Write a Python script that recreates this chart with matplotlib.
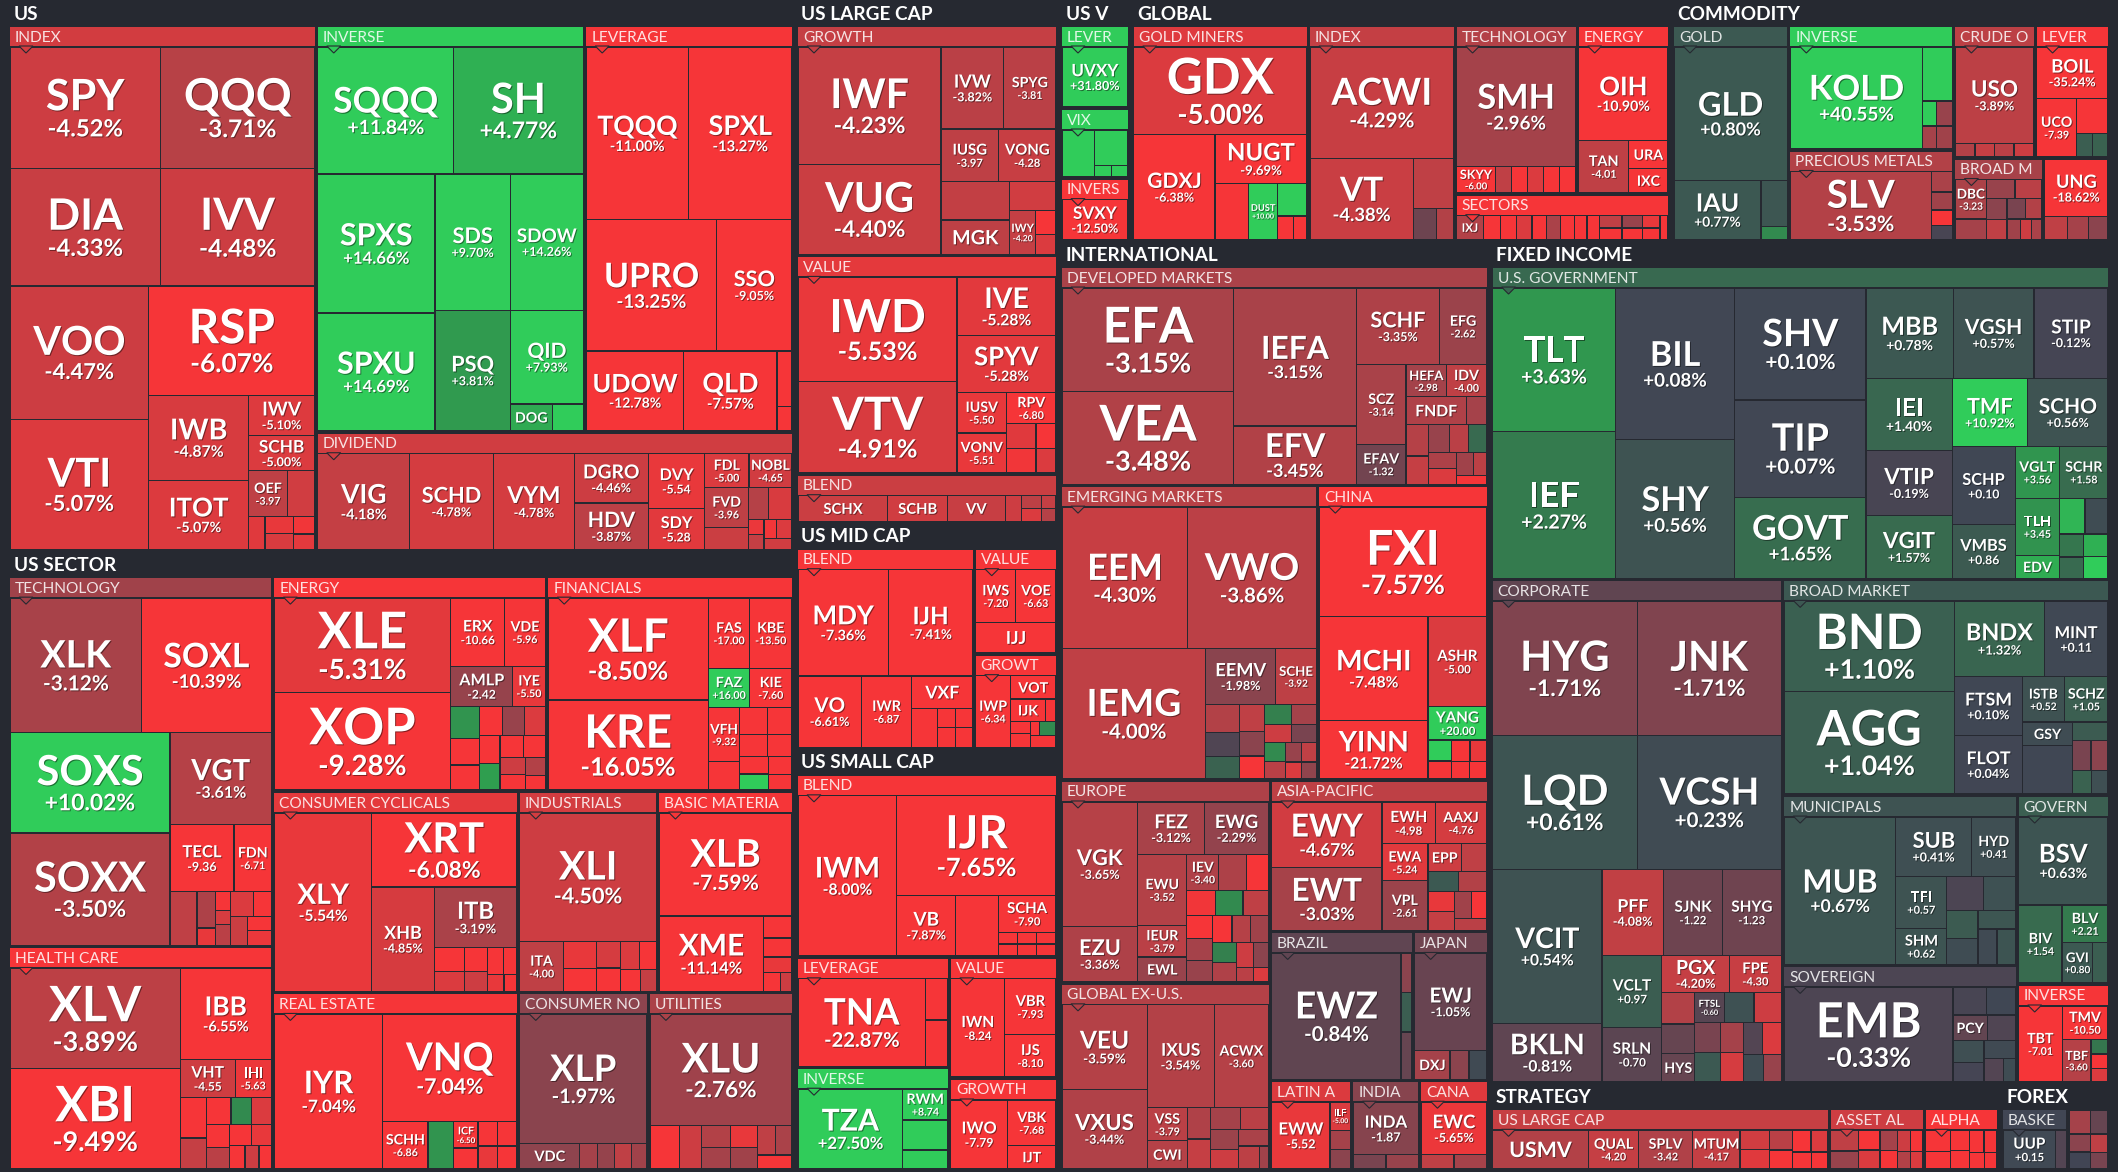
import matplotlib
matplotlib.use("Agg")
import matplotlib.pyplot as plt
import matplotlib.patheffects as pe
from matplotlib.patches import Rectangle, Polygon
from matplotlib.textpath import TextPath
from matplotlib.font_manager import FontProperties
from matplotlib.colors import to_rgb
import numpy as np

# ---------------------------------------------------------------
# data: (ticker, % change, weight); empty ticker = unlabeled tile
# ---------------------------------------------------------------
US_INDEX = [("SPY", -4.52, 10080), ("QQQ", -3.71, 10350), ("DIA", -4.33, 9744),
            ("IVV", -4.48, 10005), ("VOO", -4.47, 10200), ("VTI", -5.07, 9996),
            ("RSP", -6.07, 10000), ("IWB", -4.87, 4680), ("ITOT", -5.07, 3816),
            ("IWV", -5.10, 1484), ("SCHB", -5.00, 1272), ("OEF", -3.97, 990),
            ("", -4.6, 700), ("", -5.2, 300), ("", -5.5, 260), ("", -4.9, 260),
            ("", -5.8, 200), ("", -5.3, 180)]
US_INVERSE = [("SQQQ", 11.84, 9595), ("SH", 4.77, 9120), ("SPXS", 14.66, 9048),
              ("SPXU", 14.69, 7656), ("SDS", 9.70, 5712), ("SDOW", 14.26, 5508),
              ("PSQ", 3.81, 5040), ("QID", 7.93, 3780), ("DOG", 4.5, 620), ("", 9.0, 460)]
US_LEVERAGE = [("TQQQ", -11.00, 9804), ("SPXL", -13.27, 9933), ("UPRO", -13.25, 9506),
               ("SSO", -9.05, 5488), ("UDOW", -12.78, 4320), ("QLD", -7.57, 4140),
               ("", -12.5, 462), ("", -9.0, 198)]
US_DIVIDEND = [("VIG", -4.18, 4958), ("SCHD", -4.78, 4514), ("VYM", -4.78, 4366),
               ("DGRO", -4.46, 2052), ("HDV", -3.87, 1944), ("DVY", -5.54, 1722),
               ("SDY", -5.28, 1312), ("FDL", -5.00, 840), ("NOBL", -4.65, 816),
               ("FVD", -3.96, 986), ("", -4.4, 550), ("", -3.6, 360), ("", -4.9, 430),
               ("", -5.6, 130), ("", -4.2, 130), ("", -5.9, 130), ("", -5.0, 170), ("", -4.6, 170)]

SEC_TECH = [("XLK", -3.12, 9800), ("SOXL", -10.39, 9700), ("SOXS", 10.02, 8925),
            ("SOXX", -3.50, 9996), ("VGT", -3.61, 5168), ("TECL", -9.36, 2400),
            ("FDN", -6.71, 1400), ("", -4.0, 800), ("", -3.3, 374), ("", -5.5, 180),
            ("", -6.5, 156), ("", -4.8, 120), ("", -3.8, 180), ("", -5.0, 306),
            ("", -6.0, 240), ("", -4.4, 276), ("", -6.8, 192), ("", -5.6, 192)]
SEC_HEALTH = [("XLV", -3.89, 9652), ("XBI", -9.49, 9652), ("IBB", -6.55, 4692),
              ("VHT", -4.55, 1189), ("IHI", -5.63, 783), ("", -7.0, 600), ("", -4.2, 450),
              ("", -8.5, 380), ("", 3.0, 320), ("", -5.0, 300), ("", -6.5, 300),
              ("", -3.8, 280), ("", -7.5, 260), ("", -5.5, 240), ("", -9.0, 200),
              ("", -4.5, 180), ("", -6.0, 160)]
SEC_ENERGY = [("XLE", -5.31, 9230), ("XOP", -9.28, 9490), ("ERX", -10.66, 2040),
              ("VDE", -5.96, 1530), ("AMLP", -2.42, 1380), ("IYE", -5.5, 720),
              ("", 3.5, 520), ("", -8.0, 420), ("", -9.5, 400), ("", -7.0, 380),
              ("", -2.5, 360), ("", -5.0, 340), ("", -8.5, 320), ("", 4.0, 300),
              ("", -10.0, 280), ("", -6.0, 260), ("", -4.5, 240), ("", -9.0, 220),
              ("", -3.5, 200), ("", -7.5, 160)]
SEC_FIN = [("XLF", -8.50, 9163), ("KRE", -16.05, 8092), ("FAS", -17.0, 1620),
           ("KBE", -13.5, 1674), ("FAZ", 16.0, 900), ("KIE", -7.60, 930),
           ("VFH", -9.32, 960), ("", -9.0, 500), ("", -12.0, 420), ("", -8.0, 380),
           ("", -14.0, 340), ("", -7.0, 300), ("", -10.0, 280), ("", 12.0, 260),
           ("", -9.5, 240), ("", -11.0, 200)]
SEC_CYCL = [("XLY", -5.54, 9720), ("XRT", -6.08, 5992), ("XHB", -4.85, 3634),
            ("ITB", -3.19, 2806), ("", -6.5, 400), ("", -5.0, 330), ("", -7.0, 300),
            ("", -4.5, 260), ("", -6.0, 240), ("", -8.0, 200), ("", -5.5, 160), ("", -7.5, 120)]
SEC_REIT = [("IYR", -7.04, 9440), ("VNQ", -7.04, 8118), ("SCHH", -6.86, 1188),
            ("", 3.5, 684), ("ICF", -6.5, 360), ("", -7.5, 280), ("", -6.0, 270),
            ("", -8.0, 260), ("", -5.5, 250), ("", -7.0, 240)]
SEC_INDU = [("XLI", -4.50, 9797), ("ITA", -4.00, 1216), ("", -5.5, 500), ("", -6.5, 420),
            ("", -4.8, 360), ("", -7.0, 320), ("", -5.0, 300), ("", -6.0, 260),
            ("", -8.0, 240), ("", -4.2, 200)]
SEC_BASIC = [("XLB", -7.59, 7644), ("XME", -11.14, 4389), ("", -6.5, 350),
             ("", -9.0, 300), ("", -5.5, 250), ("", -8.0, 180), ("", -4.5, 120)]
SEC_STAPLES = [("XLP", -1.97, 9114), ("VDC", -2.10, 840), ("", -3.0, 250),
               ("", -2.4, 240), ("", -4.0, 230), ("", -2.8, 220)]
SEC_UTIL = [("XLU", -2.76, 9100), ("", -6.0, 720), ("", -4.5, 540), ("", -3.5, 360),
            ("", -3.0, 360), ("", -5.5, 340), ("", -2.8, 320), ("", -4.0, 300),
            ("", -3.2, 280), ("", -6.5, 270)]

LC_GROWTH = [("IWF", -4.23, 9523), ("VUG", -4.40, 7276), ("IVW", -3.82, 2914),
             ("SPYG", -3.81, 2418), ("IUSG", -3.97, 1720), ("VONG", -4.28, 1720),
             ("", -4.1, 1485), ("MGK", -3.91, 1332), ("", -4.6, 759), ("IWY", -4.2, 648),
             ("", -6.5, 276), ("", -5.0, 230)]
LC_VALUE = [("IWD", -5.53, 9401), ("VTV", -4.91, 8211), ("IVE", -5.28, 3256),
            ("SPYV", -5.28, 3182), ("IUSV", -5.50, 1147), ("VONV", -5.51, 1110),
            ("RPV", -6.8, 888), ("", -5.2, 420), ("", -5.8, 400), ("", -6.6, 285), ("", -5.0, 270)]
LC_BLEND = [("SCHX", -4.4, 1364), ("SCHB", -4.6, 902), ("VV", -4.3, 880), ("", -4.5, 242),
            ("", -3.9, 154), ("", -5.0, 154), ("", -4.2, 110), ("", -3.6, 110)]

MC_BLEND = [("MDY", -7.36, 5740), ("IJH", -7.41, 5330), ("VO", -6.61, 2695),
            ("IWR", -6.87, 2145), ("VXF", -7.2, 1175), ("", -7.0, 600), ("", -7.5, 210),
            ("", -6.5, 200), ("", -8.0, 210), ("", -7.2, 200)]
MC_VALUE = [("IWS", -7.20, 1064), ("VOE", -6.63, 1064), ("IJJ", -7.3, 1232)]
MC_GROWTH = [("IWP", -6.34, 1344), ("VOT", -6.8, 572), ("IJK", -6.5, 416), ("", -7.0, 130),
             ("", -6.2, 130), ("", -7.5, 144), ("", -6.8, 72), ("", 3.0, 126), ("", -7.0, 162)]

SC_BLEND = [("IWM", -8.00, 9028), ("IJR", -7.65, 9044), ("VB", -7.87, 2024),
            ("", -7.6, 1472), ("SCHA", -7.9, 1204), ("", -7.5, 130), ("", -8.2, 130),
            ("", -7.0, 130), ("", -8.5, 130), ("", -7.3, 130), ("", -7.8, 130)]
SC_LEVERAGE = [("TNA", -22.87, 6528), ("", -21.0, 544), ("", -20.0, 612)]
SC_INVERSE = [("TZA", 27.50, 4898), ("RWM", 8.74, 816), ("", 15.0, 798), ("", 10.0, 494)]
SC_VALUE = [("IWN", -8.24, 3040), ("VBR", -7.93, 1634), ("IJS", -8.1, 1254)]
SC_GROWTH = [("IWO", -7.79, 2268), ("VBK", -7.68, 1296), ("IJT", -7.7, 648)]

VOL_LEVER = [("UVXY", 31.80, 2500)]
VOL_VIX = [("", 15.0, 912), ("", 14.0, 696), ("", 10.0, 108), ("", 12.0, 108)]
VOL_INVERSE = [("SVXY", -12.5, 1700)]

GL_MINERS = [("GDX", -5.00, 8576), ("GDXJ", -6.38, 4800), ("NUGT", -9.69, 2516),
             ("", -10.5, 1075), ("DUST", 10.0, 903), ("", 12.0, 550), ("", -9.0, 216), ("", -8.0, 180)]
GL_INDEX = [("ACWI", -4.29, 9095), ("VT", -4.38, 4774), ("", -4.0, 1140),
            ("", -1.2, 420), ("", -3.5, 300)]
GL_TECH = [("SMH", -2.96, 8096), ("SKYY", -6.0, 580), ("", -4.0, 240), ("", -6.5, 240),
           ("", -5.0, 240), ("", -7.0, 240), ("", -8.0, 240)]
GL_ENERGY = [("OIH", -10.90, 4620), ("TAN", -4.01, 1443), ("URA", -7.5, 609), ("IXC", -6.0, 522)]
GL_SECTORS = [("IXJ", -3.5, 440), ("", -7.0, 280), ("", -8.5, 260), ("", -5.0, 250),
              ("", -8.0, 240), ("", -3.2, 230), ("", -7.5, 220), ("", -6.0, 210),
              ("", -9.0, 200), ("", -4.0, 190), ("", -7.0, 180), ("", -2.5, 170),
              ("", -8.0, 160), ("", -5.5, 150), ("", -6.5, 140), ("", -9.5, 130)]

CM_GOLD = [("GLD", 0.80, 8772), ("IAU", 0.77, 2970), ("", 0.7, 700), ("", 3.0, 200)]
CM_INVERSE = [("KOLD", 40.55, 7546), ("", 12.0, 902), ("", 8.0, 190), ("", -2.5, 228),
              ("", -3.0, 170), ("", -2.8, 204)]
CM_PRECIOUS = [("SLV", -3.53, 5616), ("", -3.2, 256), ("", -2.8, 224), ("", -7.0, 192), ("", -0.2, 176)]
CM_CRUDE = [("USO", -3.89, 4200), ("", -3.5, 140), ("", -4.2, 140), ("", -3.8, 140), ("", -4.5, 140)]
CM_LEVER = [("BOIL", -35.24, 2000), ("UCO", -7.39, 1260), ("", -8.0, 594),
            ("", 1.0, 198), ("", 1.2, 198)]
CM_BROAD = [("DBC", -3.23, 728), ("", -3.0, 380), ("", -2.5, 320), ("", -3.8, 300),
            ("", -2.0, 260), ("", -4.0, 240), ("", -1.5, 220), ("", -3.5, 200),
            ("", -2.8, 160), ("", -4.5, 140), ("", -3.2, 124)]
CM_NATGAS = [("UNG", -18.62, 2100), ("", -4.0, 300), ("", -3.0, 280), ("", -2.0, 260)]

IN_DEVELOPED = [("EFA", -3.15, 9984), ("VEA", -3.48, 8960), ("IEFA", -3.15, 9504),
                ("EFV", -3.45, 4000), ("SCHF", -3.35, 3596), ("EFG", -2.62, 2030),
                ("SCZ", -3.14, 2220), ("EFAV", -1.32, 1110), ("HEFA", -2.98, 720),
                ("IDV", -4.0, 720), ("FNDF", -3.4, 945), ("", -3.0, 315), ("", -3.6, 400),
                ("", -4.2, 360), ("", -2.5, 320), ("", -3.8, 300), ("", 1.5, 280),
                ("", -3.3, 260), ("", -5.0, 240), ("", -2.8, 220), ("", -3.9, 170), ("", -6.0, 150)]
IN_EMERGING = [("EEM", -4.30, 9858), ("VWO", -3.86, 10070), ("IEMG", -4.00, 10388),
               ("EEMV", -1.98, 2184), ("SCHE", -3.92, 1260), ("", -3.5, 520), ("", -0.4, 460),
               ("", 1.2, 420), ("", -4.0, 380), ("", -2.0, 340), ("", -6.5, 320),
               ("", 2.5, 300), ("", -3.0, 280), ("", -4.5, 260), ("", -1.5, 240),
               ("", 3.0, 220), ("", -3.8, 200), ("", -2.5, 180), ("", -4.0, 160),
               ("", -5.0, 150), ("", -2.2, 140)]
IN_CHINA = [("FXI", -7.57, 10400), ("MCHI", -7.48, 6400), ("YINN", -21.72, 3600),
            ("ASHR", -5.00, 2967), ("YANG", 20.0, 1118), ("", 6.0, 280), ("", -6.5, 240),
            ("", -7.0, 220), ("", -5.5, 200), ("", -8.0, 180), ("", -6.0, 170)]
IN_EUROPE = [("VGK", -3.65, 4982), ("EZU", -3.36, 2226), ("FEZ", -3.12, 1862),
             ("EWG", -2.29, 1786), ("EWU", -3.52, 1836), ("IEUR", -3.79, 828),
             ("EWL", -2.5, 648), ("IEV", -3.4, 608), ("", -3.3, 532), ("", -6.5, 420),
             ("", -5.8, 380), ("", 3.0, 360), ("", -4.0, 340), ("", -6.0, 320),
             ("", -3.0, 300), ("", -2.5, 290), ("", -6.8, 280), ("", -3.6, 270),
             ("", -2.8, 260), ("", 2.5, 250), ("", -3.4, 240), ("", -4.5, 220),
             ("", -2.0, 200), ("", -3.8, 130), ("", -5.0, 120)]
IN_GLOBALEX = [("VEU", -3.59, 4032), ("VXUS", -3.44, 3780), ("IXUS", -3.54, 3870),
               ("ACWX", -3.60, 3150), ("VSS", -3.79, 750), ("CWI", -3.6, 630),
               ("", -3.4, 400), ("", -4.2, 380), ("", -3.0, 360), ("", -3.8, 340),
               ("", -2.6, 320), ("", -4.5, 300), ("", -3.2, 280), ("", -3.9, 260), ("", -2.8, 120)]
IN_ASIA = [("EWY", -4.67, 3800), ("EWT", -3.03, 3648), ("EWH", -4.98, 1176),
           ("AAXJ", -4.76, 1120), ("EWA", -5.24, 900), ("VPL", -2.61, 1200),
           ("EPP", -4.5, 486), ("", -4.0, 360), ("", 0.8, 330), ("", -3.5, 300),
           ("", -5.5, 280), ("", -4.2, 260), ("", -2.8, 240), ("", -6.0, 220), ("", -3.8, 200)]
IN_BRAZIL = [("EWZ", -0.84, 9408), ("", -2.0, 240), ("", 1.0, 240), ("", -1.0, 288)]
IN_JAPAN = [("EWJ", -1.05, 3922), ("DXJ", -3.0, 572), ("", -2.0, 308), ("", 0.2, 286)]
IN_LATAM = [("EWW", -5.52, 2236), ("ILF", -5.0, 330), ("", -3.0, 225), ("", -2.0, 225)]
IN_INDIA = [("INDA", -1.87, 1976), ("", -1.5, 260), ("", -2.5, 260)]
IN_CANADA = [("EWC", -5.65, 1968), ("", -4.0, 264), ("", -3.0, 264)]

FI_GOV = [("TLT", 3.63, 9720), ("IEF", 2.27, 9900), ("BIL", 0.08, 9918), ("SHY", 0.56, 9048),
          ("SHV", 0.10, 8064), ("TIP", 0.07, 7008), ("GOVT", 1.65, 5856), ("MBB", 0.78, 4355),
          ("VGSH", 0.57, 4020), ("STIP", -0.12, 3685), ("IEI", 1.40, 3392),
          ("VTIP", -0.19, 3100), ("VGIT", 1.57, 2976), ("TMF", 10.92, 2800),
          ("SCHO", 0.56, 3000), ("SCHP", 0.10, 2700), ("VMBS", 0.86, 1845),
          ("VGLT", 3.56, 1260), ("SCHR", 1.58, 1368), ("TLH", 3.45, 1400), ("EDV", 4.6, 560),
          ("", 5.0, 500), ("", 0.3, 450), ("", 2.0, 300), ("", 1.5, 280), ("", 4.8, 300), ("", 6.0, 300)]
FI_CORP = [("HYG", -1.71, 10486), ("JNK", -1.71, 10388), ("LQD", 0.61, 10486),
           ("VCSH", 0.23, 10388), ("VCIT", 0.54, 9100), ("BKLN", -0.81, 3450),
           ("PFF", -4.08, 2850), ("SJNK", -1.22, 2730), ("SHYG", -1.23, 2730),
           ("VCLT", 0.97, 2310), ("SRLN", -0.70, 1764), ("PGX", -4.20, 1350),
           ("FPE", -4.30, 1026), ("", -3.5, 560), ("", -1.0, 520), ("HYS", -1.0, 500),
           ("FTSL", -0.6, 480), ("", 0.5, 480), ("", -4.5, 440), ("", -1.5, 420),
           ("", 0.8, 400), ("", -3.0, 380), ("", -4.8, 360), ("", -0.5, 340),
           ("", -5.0, 320), ("", 0.3, 300), ("", -2.5, 260)]
FI_BROAD = [("BND", 1.10, 8432), ("AGG", 1.04, 9672), ("BNDX", 1.32, 3752),
            ("MINT", 0.11, 2632), ("FTSM", 0.10, 2205), ("FLOT", 0.04, 2205),
            ("ISTB", 0.52, 1056), ("SCHZ", 1.05, 1089), ("GSY", 0.3, 660), ("", 0.1, 1344),
            ("", 0.9, 360), ("", -1.5, 300), ("", -2.0, 280), ("", 1.2, 240), ("", 0.4, 220)]
FI_MUNI = [("MUB", 0.67, 9234), ("SUB", 0.41, 2530), ("HYD", 0.41, 1472), ("TFI", 0.57, 1480),
           ("SHM", 0.62, 1036), ("", -0.3, 700), ("", 0.5, 600), ("", 0.9, 500),
           ("", 0.3, 450), ("", 0.7, 400), ("", 0.2, 380), ("", 0.6, 370)]
FI_SOVEREIGN = [("EMB", -0.33, 8680), ("", -0.2, 500), ("", 0.1, 440), ("PCY", -0.9, 480),
                ("", -0.4, 400), ("", 0.4, 360), ("", -0.1, 330), ("", 0.2, 300),
                ("", -0.5, 250), ("", 0.3, 160)]
FI_GOVERN = [("BSV", 0.63, 4896), ("BIV", 1.54, 2112), ("BLV", 2.21, 1085),
             ("GVI", 0.8, 770), ("", 1.0, 385)]
FI_INVERSE = [("TBT", -7.01, 1881), ("TMV", -10.5, 875), ("TBF", -3.6, 700),
              ("", 2.0, 140), ("", -7.0, 140), ("", -5.0, 130)]

ST_LARGE = [("USMV", -3.5, 2414), ("QUAL", -4.20, 1258), ("SPLV", -3.42, 1360),
            ("MTUM", -4.17, 1190), ("", -4.6, 374), ("", -5.2, 374), ("", -3.8, 300),
            ("", -6.5, 280), ("", -7.5, 260), ("", -5.0, 240), ("", -8.0, 200), ("", -6.0, 180)]
ST_ASSET = [("", -4.0, 400), ("", -2.5, 340), ("", -6.0, 300), ("", -5.0, 280),
            ("", -3.0, 240), ("", -7.0, 220), ("", -4.5, 200), ("", -6.0, 180),
            ("", -3.5, 160), ("", -5.0, 140)]
ST_ALPHA = [("", -7.0, 360), ("", -9.0, 300), ("", -6.5, 260), ("", -8.0, 240),
            ("", -10.0, 220), ("", -7.0, 200), ("", -6.0, 160), ("", -8.0, 140)]

FX_BASKET = [("UUP", 0.15, 1360), ("", -0.5, 272)]
FX_OTHER = [("", -3.0, 280), ("", -1.0, 240), ("", -2.0, 220), ("", 0.0, 200),
            ("", -4.0, 180), ("", -1.5, 160)]

# sub-groups: (header text, weight, tiles)
US = [("INDEX", 88303, US_INDEX), ("INVERSE", 59598, US_INVERSE),
      ("LEVERAGE", 46354, US_LEVERAGE), ("DIVIDEND", 30976, US_DIVIDEND)]
US_SECTOR = [("TECHNOLOGY", 53430, SEC_TECH), ("HEALTH CARE", 32175, SEC_HEALTH),
             ("ENERGY", 32118, SEC_ENERGY), ("FINANCIALS", 28938, SEC_FIN),
             ("CONSUMER CYCLICALS", 26969, SEC_CYCL), ("REAL ESTATE", 23711, SEC_REIT),
             ("INDUSTRIALS", 15347, SEC_INDU), ("BASIC MATERIA", 14900, SEC_BASIC),
             ("CONSUMER NO", 12576, SEC_STAPLES), ("UTILITIES", 14017, SEC_UTIL)]
US_LARGE = [("GROWTH", 33003, LC_GROWTH), ("VALUE", 31266, LC_VALUE), ("BLEND", 6948, LC_BLEND)]
US_MID = [("BLEND", 19000, MC_BLEND), ("VALUE", 4700, MC_VALUE), ("GROWT", 4200, MC_GROWTH)]
US_SMALL = [("BLEND", 26248, SC_BLEND), ("LEVERAGE", 9266, SC_LEVERAGE),
            ("INVERSE", 8588, SC_INVERSE), ("VALUE", 7200, SC_VALUE), ("GROWTH", 5440, SC_GROWTH)]
US_VOL = [("LEVER", 3224, VOL_LEVER), ("VIX", 2704, VOL_VIX), ("INVERS", 2444, VOL_INVERSE)]
GLOBAL = [("GOLD MINERS", 20900, GL_MINERS), ("INDEX", 17400, GL_INDEX),
          ("TECHNOLOGY", 11340, GL_TECH), ("ENERGY", 8568, GL_ENERGY), ("SECTORS", 5530, GL_SECTORS)]
COMMODITY = [("GOLD", 13846, CM_GOLD), ("INVERSE", 11346, CM_INVERSE),
             ("PRECIOUS METALS", 8296, CM_PRECIOUS), ("CRUDE O", 5940, CM_CRUDE),
             ("LEVER", 5445, CM_LEVER), ("BROAD M", 4092, CM_BROAD), ("", 3038, CM_NATGAS)]
INTERNATIONAL = [("DEVELOPED MARKETS", 50868, IN_DEVELOPED), ("EMERGING MARKETS", 41202, IN_EMERGING),
                 ("CHINA", 27250, IN_CHINA), ("EUROPE", 23100, IN_EUROPE),
                 ("GLOBAL EX-U.S.", 21252, IN_GLOBALEX), ("ASIA-PACIFIC", 17920, IN_ASIA),
                 ("BRAZIL", 11550, IN_BRAZIL), ("JAPAN", 6050, IN_JAPAN),
                 ("LATIN A", 3960, IN_LATAM), ("INDIA", 3300, IN_INDIA), ("CANA", 3300, IN_CANADA)]
FIXED_INCOME = [("U.S. GOVERNMENT", 105560, FI_GOV), ("CORPORATE", 79980, FI_CORP),
                ("BROAD MARKET", 38400, FI_BROAD), ("MUNICIPALS", 21760, FI_MUNI),
                ("SOVEREIGN", 15000, FI_SOVEREIGN), ("GOVERN", 9500, FI_GOVERN),
                ("INVERSE", 4970, FI_INVERSE)]
STRATEGY = [("US LARGE CAP", 12000, ST_LARGE), ("ASSET AL", 3360, ST_ASSET), ("ALPHA", 2640, ST_ALPHA)]
FOREX = [("BASKE", 2304, FX_BASKET), ("", 1440, FX_OTHER)]

SECTIONS = [("US", 236874, US), ("US SECTOR", 265974, US_SECTOR),
            ("US LARGE CAP", 75270, US_LARGE), ("US MID CAP", 32565, US_MID),
            ("US SMALL CAP", 60645, US_SMALL), ("US V", 9434, US_VOL),
            ("GLOBAL", 71022, GLOBAL), ("COMMODITY", 57850, COMMODITY),
            ("INTERNATIONAL", 218148, INTERNATIONAL), ("FIXED INCOME", 285498, FIXED_INCOME),
            ("STRATEGY", 24128, STRATEGY), ("FOREX", 5248, FOREX)]

# ---------------------------------------------------------------
BG = "#262931"
STOPS = [-6, -4, -2, 0, 2, 4, 6]
STOP_RGB = np.array([to_rgb(c) for c in
                     ["#f63538", "#bf4045", "#8b444e", "#414554", "#35764e", "#2f9e4f", "#30cc5a"]])
PX = 0.72                      # points per pixel (dpi 100)
SEC_HEAD = 24
GRP_HEAD = 19
FAMILY = ["Lato", "DejaVu Sans"]
BOLD = FontProperties(family=FAMILY, weight="bold")
SHADOW = [pe.withSimplePatchShadow(offset=(0.7, -0.7), shadow_rgbFace="black", alpha=0.45)]


def change_color(v):
    v = min(max(v, STOPS[0]), STOPS[-1])
    return tuple(np.interp(v, STOPS, STOP_RGB[:, k]) for k in range(3))


def squarify(values, x0, y0, x1, y1):
    """d3-style squarified treemap, keeps the given order."""
    vals = [float(v) for v in values]
    n = len(vals)
    rects = [None] * n
    total = sum(vals)
    i0 = 0
    while i0 < n:
        dx, dy = max(x1 - x0, 1e-6), max(y1 - y0, 1e-6)
        s = vals[i0]
        i1 = i0 + 1
        mn = mx = s
        alpha = max(dy / dx, dx / dy) / total
        beta = s * s * alpha
        best = max(mx / beta, beta / mn)
        while i1 < n:
            v = vals[i1]
            s2 = s + v
            mn2, mx2 = min(mn, v), max(mx, v)
            beta = s2 * s2 * alpha
            r = max(mx2 / beta, beta / mn2)
            if r > best:
                break
            s, mn, mx, best = s2, mn2, mx2, r
            i1 += 1
        last = i1 >= n
        if dx < dy:
            yb = y1 if last else y0 + dy * s / total
            xx = x0
            for i in range(i0, i1):
                w = dx * vals[i] / s
                rects[i] = (xx, y0, xx + w, yb)
                xx += w
            y0 = yb
        else:
            xb = x1 if last else x0 + dx * s / total
            yy = y0
            for i in range(i0, i1):
                h = dy * vals[i] / s
                rects[i] = (x0, yy, xb, yy + h)
                yy += h
            x0 = xb
        total -= s
        i0 = i1
    return rects


_width = {}


def text_width(s):
    if s not in _width:
        _width[s] = TextPath((0, 0), s, size=1, prop=BOLD).get_extents().width
    return _width[s]


def label_tile(ax, x0, y0, x1, y1, ticker, chg):
    w, h = x1 - x0, y1 - y0
    if not ticker or w < 10 or h < 9:
        return
    n = len(ticker)
    fs = min(w / (2.35 + 0.375 * n), 0.58 * h)
    if fs < 14.2:
        fs = min(14.2, 0.85 * w / (0.65 * n), 0.75 * h)
    fs = min(fs, 0.92 * w / text_width(ticker))
    if fs < 8.5:
        return

    def sizes(f):
        p = max(0.55 * f, min(0.75 * f, 12.5))
        return p, 0.72 * f + 0.38 * p + 0.72 * p

    fp, block = sizes(fs)
    if block > 0.75 * h and fs > 22:
        # large tile limited by its height: shrink the pair to fit
        fs = max(fs * 0.75 * h / block, 14.5)
        fp, block = sizes(fs)
    pct = f"{chg:+.2f}%" if fs >= 17 else f"{chg:+.2f}"
    if text_width(pct) * fp > 0.94 * w:
        pct = f"{chg:+.2f}"
    show_pct = text_width(pct) * fp <= 0.96 * w
    cap_t = 0.72 * fs
    cx, cy = (x0 + x1) / 2, (y0 + y1) / 2
    if show_pct and block <= 0.76 * h:
        top = cy - block / 2
        ax.text(cx, top + cap_t, ticker, ha="center", va="baseline", color="white",
                fontsize=fs * PX, fontfamily=FAMILY, fontweight="bold", path_effects=SHADOW)
        ax.text(cx, top + block, pct, ha="center", va="baseline", color="white",
                fontsize=fp * PX, fontfamily=FAMILY, fontweight="bold", path_effects=SHADOW)
    else:
        fs = min(fs, 0.8 * h / 0.72)
        ax.text(cx, cy + 0.36 * fs, ticker, ha="center", va="baseline", color="white",
                fontsize=fs * PX, fontfamily=FAMILY, fontweight="bold", path_effects=SHADOW)


def draw_group(ax, name, tiles, rect):
    x0, y0, x1, y1 = rect
    x0, y0, x1, y1 = x0 + 1.5, y0 + 1.5, x1 - 1.5, y1 - 1.5
    top = y0
    head_col = None
    if name:
        wts = np.array([t[2] for t in tiles], float)
        chg = np.array([t[1] for t in tiles], float)
        head_col = change_color(float((wts * chg).sum() / wts.sum()))
        bar = Rectangle((x0, y0), x1 - x0, GRP_HEAD, facecolor=head_col, edgecolor="none")
        ax.add_patch(bar)
        t = ax.text(x0 + 5, y0 + GRP_HEAD / 2 + 1, name, ha="left", va="center",
                    color="white", alpha=0.85, fontsize=15.5 * PX, fontfamily=FAMILY)
        t.set_clip_path(bar)
        top = y0 + GRP_HEAD + 1
    rects = squarify([t[2] for t in tiles], x0, top, x1, y1)
    for (ticker, chg, _), (a, b, c, d) in zip(tiles, rects):
        ax.add_patch(Rectangle((a + 0.6, b + 0.6), max(c - a - 1.2, 0.3), max(d - b - 1.2, 0.3),
                               facecolor=change_color(chg), edgecolor="none"))
        label_tile(ax, a, b, c, d, ticker, chg)
    if name and x1 - x0 > 30:
        ax.add_patch(Polygon([(x0 + 9, top - 1), (x0 + 23, top - 1), (x0 + 16, top + 6)],
                             closed=True, facecolor=head_col, edgecolor=BG, linewidth=0.8))


def draw_section(ax, name, groups, rect):
    x0, y0, x1, y1 = rect
    x0, y0, x1, y1 = x0 + 1.5, y0 + 0.5, x1 - 1.5, y1 - 1.0
    ax.text(x0 + 5, y0 + 12.5, name, ha="left", va="center", color="white",
            fontsize=19 * PX, fontfamily=FAMILY, fontweight="bold")
    rects = squarify([g[1] for g in groups], x0, y0 + SEC_HEAD, x1, y1)
    for (gname, _, tiles), r in zip(groups, rects):
        draw_group(ax, gname, tiles, r)


fig = plt.figure(figsize=(21.18, 11.72), dpi=100, facecolor=BG)
ax = fig.add_axes([0, 0, 1, 1])
ax.set_xlim(0, 2118)
ax.set_ylim(1172, 0)
ax.axis("off")
ax.set_facecolor(BG)

for (sname, _, groups), r in zip(SECTIONS, squarify([s[1] for s in SECTIONS], 7, 1, 2111, 1171)):
    draw_section(ax, sname, groups, r)

fig.savefig("out.png", dpi=100, facecolor=BG)
